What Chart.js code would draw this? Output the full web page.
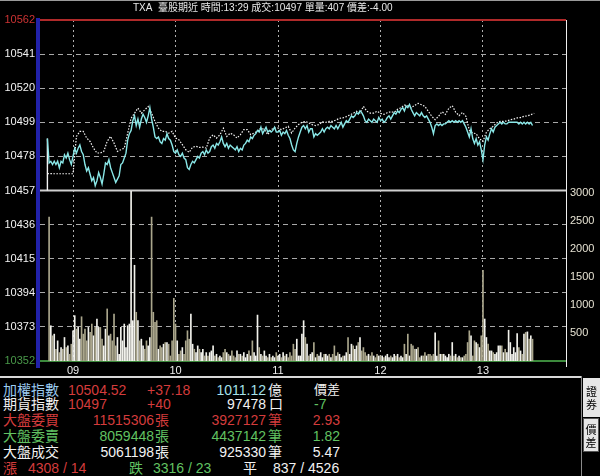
<!DOCTYPE html>
<html>
<head>
<meta charset="utf-8">
<title>TXA 臺股期近</title>
<script src="https://cdn.jsdelivr.net/npm/chart.js@4.4.1/dist/chart.umd.min.js"></script>
<style>
  body { margin: 0; background: #000; }
  #page { position: relative; width: 600px; height: 476px; overflow: hidden; background: #000;
          font-family: "Liberation Sans", "Noto Sans CJK TC", sans-serif; color: #f2f2f2; }
  #canvas { position: absolute; left: 0; top: 0; }
  .topline { position: absolute; left: 0; top: 0; width: 600px; height: 1px; background: #9a9a9a; }
  .title { position: absolute; left: 133px; top: 2px; font-size: 10px; line-height: 12px; color: #e8e8e8; white-space: nowrap; }
  .sep { position: absolute; left: 0; top: 376px; width: 582px; height: 2px; background: #d8d8d8; }
  .vline { position: absolute; left: 581px; top: 376px; width: 1px; height: 100px; background: #8a8a8a; }
  .tab { position: absolute; background: #e6e6e6; color: #000; font-size: 11px; line-height: 13px;
         text-align: center; font-family: "Noto Sans CJK TC", sans-serif; box-sizing: border-box; }
  .t { position: absolute; font-size: 14px; line-height: 16px; white-space: nowrap; }
  .red { color: #d43c3c; }
  .green { color: #62c262; }
  .white { color: #f2f2f2; }
  .blue { color: #9cccf2; }
  .cyan { color: #a6e2ea; }
</style>
</head>
<body>
<div id="page">
  <canvas id="canvas" width="600" height="378"></canvas>
  <div class="topline"></div>
  <div class="title">TXA&nbsp;&nbsp;臺股期近 時間:13:29 成交:10497 單量:407 價差:-4.00</div>

  <div class="sep"></div>
  <div class="vline"></div>
  <div class="tab" style="left:583px;top:378px;width:17px;height:39px;padding-top:7px">證<br>券</div>
  <div class="tab" style="left:583px;top:418px;width:16px;height:34px;padding-top:4px;border:1px solid #555">價<br>差</div>

  <span class="t blue" style="left:3px;top:382px">加權指數</span>
  <span class="t red" style="left:68px;top:382px">10504.52</span>
  <span class="t red" style="left:147px;top:382px">+37.18</span>
  <span class="t cyan" style="right:334px;top:382px">1011.12</span>
  <span class="t white" style="left:268px;top:382px">億</span>
  <span class="t white" style="left:314px;top:382px;font-size:13px">價差</span>

  <span class="t white" style="left:3px;top:396px">期貨指數</span>
  <span class="t red" style="left:68px;top:396px">10497</span>
  <span class="t red" style="left:147px;top:396px">+40</span>
  <span class="t white" style="right:334px;top:396px">97478</span>
  <span class="t white" style="left:269px;top:396px">口</span>
  <span class="t green" style="left:314px;top:396px">-7</span>

  <span class="t red" style="left:3px;top:412px">大盤委買</span>
  <span class="t red" style="right:446px;top:412px">11515306</span>
  <span class="t red" style="left:155px;top:412px">張</span>
  <span class="t red" style="right:334px;top:412px">3927127</span>
  <span class="t red" style="left:268px;top:412px">筆</span>
  <span class="t red" style="right:260px;top:412px">2.93</span>

  <span class="t green" style="left:3px;top:428px">大盤委賣</span>
  <span class="t green" style="right:446px;top:428px">8059448</span>
  <span class="t green" style="left:155px;top:428px">張</span>
  <span class="t green" style="right:334px;top:428px">4437142</span>
  <span class="t green" style="left:268px;top:428px">筆</span>
  <span class="t green" style="right:260px;top:428px">1.82</span>

  <span class="t white" style="left:3px;top:444px">大盤成交</span>
  <span class="t white" style="right:446px;top:444px">5061198</span>
  <span class="t white" style="left:155px;top:444px">張</span>
  <span class="t white" style="right:334px;top:444px">925330</span>
  <span class="t white" style="left:268px;top:444px">筆</span>
  <span class="t white" style="right:260px;top:444px">5.47</span>

  <span class="t red" style="left:3px;top:460px">漲</span>
  <span class="t red" style="left:28px;top:460px">4308 / 14</span>
  <span class="t green" style="left:129px;top:460px">跌</span>
  <span class="t green" style="left:153px;top:460px">3316 / 23</span>
  <span class="t white" style="left:243px;top:460px">平</span>
  <span class="t white" style="left:273px;top:460px">837 / 4526</span>
</div>

<script>
// tick values of the price axis (left) and the volume axis (right)
var priceTicks = [10352, 10373, 10394, 10415, 10436, 10457, 10478, 10499, 10520, 10541, 10562];
var volumeTicks = [500, 1000, 1500, 2000, 2500, 3000];
// x is minutes after 08:45
var hourTicks = [15, 75, 135, 195, 255];
var hourLabels = ["09", "10", "11", "12", "13"];

var futuresRef = 10457;      // futures reference price
var spotPrevClose = 10467.34; // index previous close

// futures price per minute, minute 0 = 08:45
var futures = [10489,
	10474, 10475, 10473, 10475, 10473, 10475, 10471, 10475, 10474, 10479,
	10477, 10480, 10476, 10473, 10478, 10483, 10480, 10483, 10485, 10481,
	10479, 10473, 10469, 10471, 10467, 10463, 10465, 10460, 10463, 10468,
	10465, 10461, 10467, 10474, 10473, 10476, 10471, 10468, 10465, 10462,
	10464, 10466, 10473, 10474, 10477, 10480, 10488, 10492, 10494, 10500,
	10503, 10497, 10501, 10496, 10501, 10504, 10502, 10499, 10503, 10508,
	10501, 10496, 10490, 10489, 10490, 10487, 10486, 10489, 10488, 10492,
	10489, 10488, 10485, 10481, 10480, 10482, 10479, 10478, 10480, 10477,
	10476, 10471, 10470, 10473, 10475, 10474, 10476, 10478, 10477, 10480,
	10481, 10479, 10482, 10480, 10481, 10484, 10485, 10483, 10486, 10485,
	10487, 10490, 10486, 10484, 10486, 10483, 10485, 10484, 10483, 10482,
	10484,
	10481, 10483, 10482, 10485, 10486, 10488, 10487, 10490, 10489, 10491,
	10492, 10494, 10493, 10496, 10492, 10494, 10496, 10493, 10494, 10493,
	10494, 10496, 10493, 10493, 10494, 10491, 10493, 10492, 10494, 10491,
	10489, 10485, 10482, 10481, 10486, 10490, 10493, 10496, 10497, 10495,
	10497, 10493, 10495, 10495, 10490, 10492, 10491, 10492, 10493, 10495,
	10493, 10495, 10496, 10495, 10497, 10496, 10495, 10497, 10495, 10497,
	10499, 10496, 10498, 10500, 10499, 10501, 10503, 10502, 10503, 10505,
	10504, 10506, 10505, 10503, 10500, 10499, 10501, 10500, 10499, 10501,
	10500, 10499, 10502, 10500, 10501, 10499, 10500, 10502, 10503, 10501,
	10503, 10505, 10504, 10506, 10505, 10507, 10508, 10506, 10509, 10508,
	10510, 10507, 10505, 10503, 10505, 10504, 10503, 10505, 10503, 10502,
	10503, 10501, 10499, 10496, 10492, 10497, 10498, 10497, 10498, 10497,
	10498, 10498, 10499, 10500, 10499, 10500, 10499, 10500, 10499, 10500,
	10499, 10500, 10498, 10496, 10493, 10490, 10495, 10489, 10486, 10489,
	10485, 10487, 10482, 10476, 10485, 10490, 10488, 10492, 10495, 10493,
	10496, 10497, 10498, 10499, 10498, 10499, 10498, 10498, 10499, 10499,
	10499, 10499, 10499, 10499, 10498, 10499, 10498, 10499, 10498, 10499,
	10498, 10499, 10497];

// spot index every 2 minutes from 09:00 (minute 15)
var spotStart = 15;
var spotStep = 2;
var spot = [
	10467.3, 10490.3, 10493.4, 10493.4, 10489.3, 10487.2, 10483.1, 10480.1, 10480.1, 10481.1,
	10487.2, 10490.3, 10486.2, 10481.1, 10482.1, 10483.1, 10492.3, 10501.5, 10504.6, 10507.7,
	10504.6, 10506.7, 10508.7, 10504.6, 10499.5, 10495.4, 10493.4, 10493.4, 10492.3, 10493.4,
	10489.3, 10488.2, 10485.2, 10482.1, 10480.5, 10483.7, 10484.2, 10483.5, 10483.7, 10483.1,
	10489.3, 10491.3, 10489.3, 10491.3, 10495.4, 10490.3, 10492.3, 10491.3, 10489.3,
	10491.4, 10494.5, 10494.5, 10491.4, 10492.4, 10493.5, 10495.5, 10494.5, 10491.4, 10494.5,
	10495.5, 10495.5, 10494.5, 10495.5, 10496.5,
	10492.4, 10495.5, 10497.6, 10499.0, 10499.6, 10498.6, 10497.6, 10497.0, 10497.6, 10499.2,
	10499.0, 10499.6, 10499.6, 10500.4, 10501.5, 10501.7, 10502.5, 10503.5, 10504.5, 10505.8,
	10504.7, 10508.8, 10505.8, 10504.7, 10504.7, 10505.8, 10504.5, 10503.9, 10504.9, 10505.5,
	10505.1, 10507.0, 10508.0, 10509.6, 10509.2, 10508.0, 10509.4, 10510.7, 10509.8, 10508.8,
	10505.8, 10502.7, 10500.6, 10502.7, 10505.5, 10503.9, 10507.6, 10509.2, 10505.3, 10503.1,
	10505.1, 10502.7, 10494.1, 10492.4, 10492.0, 10488.8, 10487.3, 10492.9, 10495.1, 10496.5,
	10498.6, 10499.6, 10499.6, 10499.8, 10500.6, 10501.0, 10501.7, 10501.9, 10502.7, 10502.9,
	10503.7, 10504.5];

// volume per minute, first value = minute 1 (08:46)
var volumes = [
	2570, 630, 450, 480, 210, 360, 150, 240, 210, 420,
	240, 270, 120, 300, 540, 810, 570, 600, 390, 790,
	480, 570, 360, 600, 510, 660, 450, 600, 750, 600,
	600, 390, 270, 570, 930, 450, 480, 360, 840, 270,
	420, 120, 600, 360, 660, 240, 630, 660, 3030, 720,
	1710, 870, 720, 360, 390, 270, 210, 360, 270, 420,
	2570, 870, 690, 720, 210, 270, 240, 300, 330, 330,
	300, 90, 360, 1120, 660, 360, 120, 180, 240, 120,
	360, 540, 390, 840, 300, 210, 150, 270, 210, 150,
	210, 90, 150, 90, 150, 180, 270, 90, 120, 60,
	90, 60, 150, 210, 150, 120, 90, 180, 90, 60,
	180, 120, 120, 90, 150, 60, 120, 180, 90, 360,
	150, 90, 820, 240, 120, 90, 180, 90, 60, 120,
	60, 90, 60, 150, 90, 120, 60, 150, 90, 120,
	60, 150, 90, 300, 210, 390, 90, 90, 480, 720,
	420, 300, 90, 120, 150, 330, 60, 120, 90, 150,
	60, 120, 120, 90, 120, 60, 120, 270, 90, 150,
	120, 60, 90, 90, 150, 420, 120, 300, 270, 210,
	270, 330, 420, 180, 240, 150, 90, 120, 90, 150,
	90, 60, 120, 90, 90, 90, 60, 90, 120, 60,
	90, 60, 120, 90, 120, 60, 90, 60, 300, 120,
	480, 90, 300, 270, 210, 210, 240, 60, 90, 90,
	150, 90, 120, 120, 90, 120, 505, 90, 360, 120,
	120, 120, 90, 60, 120, 90, 330, 90, 120, 60,
	90, 60, 60, 90, 120, 330, 540, 450, 90, 360,
	330, 300, 240, 450, 1620, 750, 420, 300, 180, 180,
	150, 120, 150, 270, 270, 270, 150, 210, 150, 550,
	330, 120, 240, 150, 490, 240, 180, 120, 480, 510,
	520, 390, 450, 390];

var futuresData = [{ x: 0, y: futuresRef }];
for (var i = 0; i < futures.length; i++) {
	futuresData.push({ x: i, y: futures[i] });
}

var spotData = [{ x: 0, y: spotPrevClose }];
for (var j = 0; j < spot.length; j++) {
	spotData.push({ x: spotStart + j * spotStep, y: spot[j] });
}

var volData = [];
var volColors = [];
for (var k = 0; k < volumes.length; k++) {
	var m = k + 1;
	volData.push({ x: m, y: volumes[k] });
	volColors.push(futures[m] >= futures[m - 1] ? '#f2f2ec' : '#aaa68c');
}

// solid reference lines and the coloured frame edges
var frameLines = {
	id : 'frameLines',
	beforeDatasetsDraw : function(chart) {
		var c = chart.ctx, a = chart.chartArea, y = chart.scales.y;
		c.save();
		c.setLineDash([]);
		var hline = function(v, color, w) {
			var py = y.getPixelForValue(v);
			c.strokeStyle = color;
			c.lineWidth = w;
			c.beginPath();
			c.moveTo(a.left, py);
			c.lineTo(a.right, py);
			c.stroke();
		};
		hline(priceTicks[priceTicks.length - 1], '#b02a2a', 2);
		hline(futuresRef, '#cfcfcf', 2);
		hline(priceTicks[0], '#3c8a3c', 2);
		c.restore();
	},
	afterDatasetsDraw : function(chart) {
		var c = chart.ctx, a = chart.chartArea;
		c.save();
		c.fillStyle = '#2222aa';
		c.fillRect(a.left - 4, a.top - 2, 4, a.bottom - a.top + 9);
		c.fillStyle = '#eeeeee';
		c.fillRect(a.right, a.top, 1, a.bottom - a.top + 6);
		c.restore();
	}
};

Chart.defaults.font.family = '"Liberation Sans", "DejaVu Sans", sans-serif';

window.onload = function() {
	var ctx = document.getElementById("canvas").getContext("2d");
	window.myChart = new Chart(ctx, {
		type : 'line',
		data : {
			datasets : [ {
				type : 'bar',
				data : volData,
				yAxisID : 'y2',
				backgroundColor : volColors,
				barThickness : 1,
				order : 3
			}, {
				label : '加權指數',
				data : spotData,
				yAxisID : 'y',
				borderColor : '#f4f4f4',
				borderWidth : 1.2,
				borderDash : [ 1.5, 1.5 ],
				pointRadius : 0,
				tension : 0,
				order : 2
			}, {
				label : '期貨指數',
				data : futuresData,
				yAxisID : 'y',
				borderColor : '#8ae8e8',
				borderWidth : 1.4,
				pointRadius : 0,
				tension : 0,
				order : 1,
				segment : {
					// opening jump drawn in white like the terminal does
					borderColor : function(c) {
						return c.p0.parsed.x === c.p1.parsed.x ? '#f4f4f4' : undefined;
					}
				}
			} ]
		},
		options : {
			responsive : false,
			animation : false,
			events : [],
			layout : {
				padding : { top : 20, left : 0, right : 0, bottom : 0 }
			},
			plugins : {
				legend : { display : false },
				tooltip : { enabled : false }
			},
			scales : {
				x : {
					type : 'linear',
					min : -4.33,
					max : 303.6,
					offset : false,
					afterBuildTicks : function(s) {
						s.ticks = hourTicks.map(function(v) { return { value : v }; });
					},
					afterFit : function(s) { s.height = 17; },
					grid : { color : '#b0b0b0', lineWidth : 1, drawTicks : false, offset : false },
					border : { display : false, dash : [ 2, 3 ] },
					ticks : {
						color : '#f0f0f0',
						font : { size : 11 },
						padding : 3,
						autoSkip : false,
						maxRotation : 0,
						callback : function(v) { return hourLabels[hourTicks.indexOf(v)]; }
					}
				},
				y : {
					position : 'left',
					min : priceTicks[0],
					max : priceTicks[priceTicks.length - 1],
					afterBuildTicks : function(s) {
						s.ticks = priceTicks.map(function(v) { return { value : v }; });
					},
					afterFit : function(s) { s.width = 40; },
					grid : { color : '#a8a8a8', lineWidth : 1, drawTicks : false },
					border : { display : false, dash : [ 5, 4 ] },
					ticks : {
						font : { size : 11 },
						padding : 5,
						autoSkip : false,
						color : function(c) {
							var v = c.tick ? c.tick.value : 0;
							if (v === priceTicks[priceTicks.length - 1]) return '#cc3333';
							if (v === priceTicks[0]) return '#4a9a4a';
							return '#f2f2f2';
						},
						callback : function(v) { return String(v); }
					}
				},
				y2 : {
					position : 'right',
					min : 0,
					max : 6090,
					afterBuildTicks : function(s) {
						s.ticks = volumeTicks.map(function(v) { return { value : v }; });
					},
					afterFit : function(s) { s.width = 34; },
					grid : { display : false, drawTicks : false },
					border : { display : false },
					ticks : {
						color : '#e6e2d2',
						font : { size : 11 },
						padding : 4,
						autoSkip : false,
						callback : function(v) { return String(v); }
					}
				}
			}
		},
		plugins : [ frameLines ]
	});
};
</script>
</body>
</html>
